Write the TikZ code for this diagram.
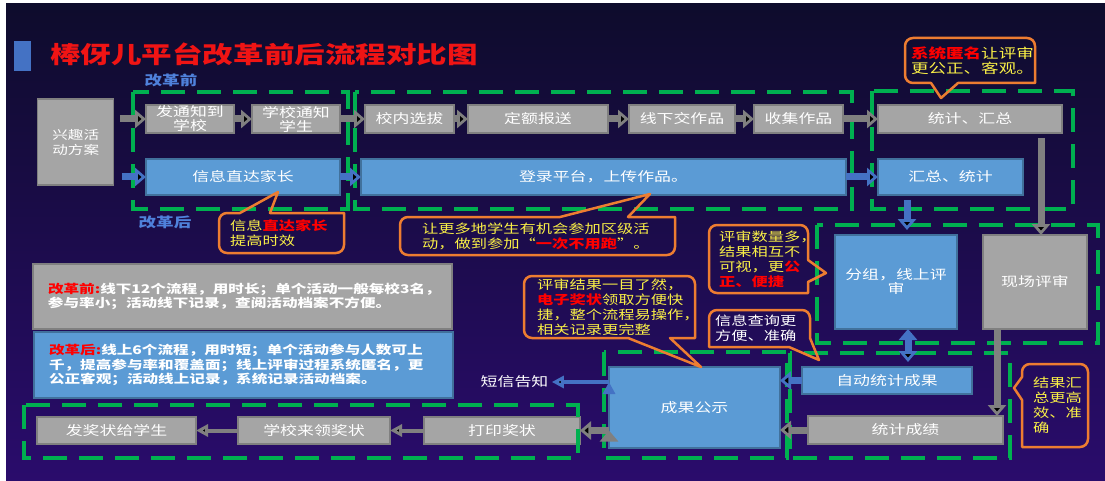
\documentclass[tikz,border=0pt]{standalone}
\usepackage{fontspec}
\setmainfont[FakeStretch=1.3]{Noto Sans CJK SC}
\usetikzlibrary{arrows.meta,calc}
\definecolor{boxgray}{RGB}{165,165,165}
\definecolor{edgegray}{RGB}{128,128,128}
\definecolor{boxblue}{RGB}{91,155,213}
\definecolor{edgeblue}{RGB}{65,113,156}
\definecolor{arrowblue}{RGB}{68,114,196}
\definecolor{dashgreen}{RGB}{0,176,80}
\definecolor{callorange}{RGB}{237,125,49}
\definecolor{callyellow}{RGB}{250,240,70}
\definecolor{labelblue}{RGB}{79,129,219}
\definecolor{titlered}{RGB}{240,20,20}
\definecolor{bgtop}{RGB}{14,12,44}
\definecolor{bgbottom}{RGB}{42,12,108}

\begin{document}
\begin{tikzpicture}[x=1pt,y=-1pt]
		\tikzstyle{GB}=[draw=edgegray,fill=boxgray,line width=1.2pt,text=white,inner sep=0pt,outer sep=0pt,align=center,font=\fontsize{13}{14}\selectfont]
		\tikzstyle{BB}=[GB,draw=edgeblue,fill=boxblue]
		\tikzstyle{NT}=[GB,align=left,text width=389pt,inner xsep=15pt,minimum height=65pt,font=\fontsize{12}{14.5}\selectfont\bfseries]
		\tikzstyle{DB}=[draw=dashgreen,line width=3.5pt,dash pattern=on 24pt off 12pt]
		\tikzstyle{GA}=[draw=edgegray,line width=7pt,-{Triangle[length=11pt,width=18pt]}]
		\tikzstyle{BA}=[GA,draw=arrowblue]
		\tikzstyle{TA}=[GA,line width=4pt,-{Triangle[length=12pt,width=12pt]}]
		\tikzstyle{CT}=[align=left,inner ysep=0pt,outer sep=0pt,text=callyellow,font=\fontsize{12.5}{15}\selectfont]
		\tikzstyle{CO}=[draw=callorange,line width=2.5pt,line cap=round,line join=round]

		\useasboundingbox (0,0) rectangle (1105,481);
		\fill[white] (0,0) rectangle (1105,481);
		\shade[top color=bgtop,bottom color=bgbottom] (6,4) rectangle (1105,481);

		\node[fill=arrowblue,minimum width=17pt,minimum height=30pt,inner sep=0pt] (bar) at (22.5,56) {};
		\node[anchor=west,inner sep=0pt,text=titlered,font=\fontsize{23.5}{26}\selectfont\bfseries] (title) at (50,54) {棒伢儿平台改革前后流程对比图};
		\node[text=labelblue,font=\fontsize{13.5}{15}\selectfont\bfseries] (pre) at (171,80) {改革前};
		\node[text=labelblue,font=\fontsize{13.5}{15}\selectfont\bfseries] (post) at (165,222) {改革后};

		% offline flow
		\node[GB,minimum width=76pt,minimum height=86pt,font=\fontsize{12}{15}\selectfont] (plan) at (75.75,142) {兴趣活\\动方案};
		\node[GB,minimum width=88pt,minimum height=28pt] (notice) at (190,119) {发通知到\\学校};
		\node[GB,minimum width=88pt,minimum height=28pt] (inform) at (296,119) {学校通知\\学生};
		\node[GB,minimum width=89pt,minimum height=28pt] (select) at (409.5,119) {校内选拔};
		\node[GB,minimum width=140pt,minimum height=28pt] (quota) at (538,119) {定额报送};
		\node[GB,minimum width=106pt,minimum height=28pt] (hand) at (682,119) {线下交作品};
		\node[GB,minimum width=89pt,minimum height=28pt] (collect) at (798.5,119) {收集作品};
		\node[GB,minimum width=184pt,minimum height=28pt] (count) at (970,119) {统计、汇总};

		% online flow
		\node[BB,minimum width=194pt,minimum height=36pt] (direct) at (243,177) {信息直达家长};
		\node[BB,minimum width=485pt,minimum height=36pt] (upload) at (603.5,177) {登录平台，上传作品。};
		\node[BB,minimum width=145pt,minimum height=36pt] (sum) at (950.5,177) {汇总、统计};

		\node[BB,minimum width=122pt,minimum height=94pt] (group) at (896,282) {分组，线上评\\审};
		\node[GB,minimum width=104pt,minimum height=94pt] (onsite) at (1035,282) {现场评审};
		\node[BB,minimum width=170pt,minimum height=27pt] (auto) at (887,380.5) {自动统计成果};
		\node[GB,minimum width=195pt,minimum height=28pt] (score) at (905.5,430) {统计成绩};
		\node[BB,minimum width=171pt,minimum height=81pt] (publish) at (694.5,407.5) {成果公示};
		\node[text=white,font=\fontsize{13}{14}\selectfont] (sms) at (514.5,382) {短信告知};
		\node[GB,minimum width=156pt,minimum height=27pt] (print) at (502,430.5) {打印奖状};
		\node[GB,minimum width=152pt,minimum height=27pt] (fetch) at (314,430.5) {学校来领奖状};
		\node[GB,minimum width=159pt,minimum height=27pt] (give) at (116.5,430.5) {发奖状给学生};

		% notes
		\node[NT] (before) at (242.5,296.5) {{\color{red}改革前:}线下12个流程，用时长；单个活动一般每校3名，\\参与率小；活动线下记录，查阅活动档案不方便。};
		\node[NT,draw=edgeblue,fill=boxblue,minimum height=66pt] (after) at (243.5,365) {{\color{red}改革后:}线上6个流程，用时短；单个活动参与人数可上\\千，提高参与率和覆盖面；线上评审过程系统匿名，更\\公正客观；活动线上记录，系统记录活动档案。};

		% stages
		\draw[DB] (133,92) rectangle (348,209);
		\draw[DB] (355,92) rectangle (852,209);
		\draw[DB] (872,91) rectangle (1073,209);
		\draw[DB] (817,225) rectangle (1098,343);
		\draw[DB] (790,353) rectangle (1010,458);
		\draw[DB] (604,352) rectangle (787,458);
		\draw[DB] (24,405) rectangle (578,458);

		\coordinate (otop) at ($(onsite.north)+(6,0)$);
		\coordinate (obot) at ($(onsite.south)+(-38,0)$);
		\coordinate (gtop) at ($(group.north)+(11,0)$);
		\coordinate (gbot) at ($(group.south)+(12,0)$);

		\path[GA]
		(plan.east |- notice.west) edge[shorten <=6pt] (notice)
		(notice) edge (inform)
		(inform) edge (select)
		(select) edge (quota)
		(quota) edge (hand)
		(hand) edge (collect)
		(collect) edge (count)
		(otop |- count.south) edge[shorten <=5pt] (otop)
		(obot) edge (obot |- score.north)
		(score) edge (score -| publish.east)
		(publish.west |- print) edge (print)
		;
		\path[BA]
		(plan.east |- direct.west) edge[shorten <=8pt] (direct)
		(direct) edge (upload)
		(upload) edge (sum)
		(gtop |- sum.south) edge[shorten <=5pt,shorten >=5pt] (gtop)
		(gbot) edge[shorten <=4pt,shorten >=5pt] (gbot |- auto.north)
		(auto) edge (auto -| publish.east)
		;
		\path[TA,draw=arrowblue,line width=3.5pt]
		(publish.west |- sms) edge (sms)
		;
		\path[TA]
		(print) edge (fetch)
		(fetch) edge (give)
		;

		% callouts
		\node[CT,text width=103pt,inner xsep=11pt,minimum height=40pt] (hint1) at (281.5,233) {信息{\color{red}\bfseries 直达家长}\\提高时效};
		\draw[CO] ($(hint1.north west)+(21,0)$) -- (278,192) -- ($(hint1.north west)+(51,0)$) -- (hint1.north east) [rounded corners=8pt] -- (hint1.south east) -- (hint1.south west) -- (hint1.north west) -- ($(hint1.north west)+(21,0)$);

		\node[CT,text width=231pt,inner xsep=22pt,minimum height=38pt] (hint2) at (537.5,236) {让更多地学生有机会参加区级活\\动，做到参加“{\color{red}\bfseries 一次不用跑}”。};
		\draw[CO] ($(hint2.north west)+(160,0)$) -- (650,194) -- ($(hint2.north west)+(228,0)$) -- (hint2.north east) [rounded corners=8pt] -- (hint2.south east) -- (hint2.south west) -- (hint2.north west) -- ($(hint2.north west)+(160,0)$);

		\node[CT,text width=118pt,inner xsep=6pt,minimum height=45pt,font=\fontsize{13.5}{15}\selectfont] (hint3) at (970,60.5) {{\color{red}\bfseries 系统匿名}让评审\\更公正、客观。};
		\draw[CO] ($(hint3.south west)+(26,0)$) -- (941,98) -- ($(hint3.south west)+(53,0)$) -- (hint3.south east) [rounded corners=8pt] -- (hint3.north east) -- (hint3.north west) -- (hint3.south west) -- ($(hint3.south west)+(26,0)$);

		\node[CT,text width=79pt,inner xsep=10pt,minimum height=68pt] (hint4) at (758.5,259) {评审数量多，\\结果相互不\\可视，更{\color{red}\bfseries 公}\\{\color{red}\bfseries 正、便捷}};
		\draw[CO] ($(hint4.north east)+(0,35)$) -- (826,273) -- ($(hint4.north east)+(0,57)$) -- (hint4.south east) [rounded corners=8pt] -- (hint4.south west) -- (hint4.north west) -- (hint4.north east) -- ($(hint4.north east)+(0,35)$);

		\node[CT,text width=145pt,inner xsep=13pt,minimum height=62pt] (hint5) at (609.5,307) {评审结果一目了然，\\{\color{red}\bfseries 电子奖状}领取方便快\\捷，整个流程易操作，\\相关记录更完整};
		\draw[CO] ($(hint5.south west)+(104,0)$) -- (701,367) -- ($(hint5.south west)+(146,0)$) -- (hint5.south east) [rounded corners=8pt] -- (hint5.north east) -- (hint5.north west) -- (hint5.south west) -- ($(hint5.south west)+(104,0)$);

		\node[CT,text width=89pt,inner xsep=6pt,minimum height=37pt,text=white] (hint6) at (759.5,328.5) {信息查询更\\方便、准确};
		\draw[CO] ($(hint6.south east)+(0,-9)$) -- (819,360) -- ($(hint6.south east)+(-21,0)$) -- (hint6.south west) [rounded corners=8pt] -- (hint6.north west) -- (hint6.north east) -- ($(hint6.south east)+(0,-9)$);

		\node[CT,text width=44pt,inner xsep=11pt,minimum height=83pt] (hint7) at (1055,405.5) {结果汇\\总更高\\效、准\\确};
		\draw[CO] ($(hint7.north west)+(0,13)$) -- (1014,388) -- ($(hint7.north west)+(0,36)$) -- (hint7.south west) [rounded corners=8pt] -- (hint7.south east) -- (hint7.north east) -- (hint7.north west) -- ($(hint7.north west)+(0,13)$);
\end{tikzpicture}
\end{document}
